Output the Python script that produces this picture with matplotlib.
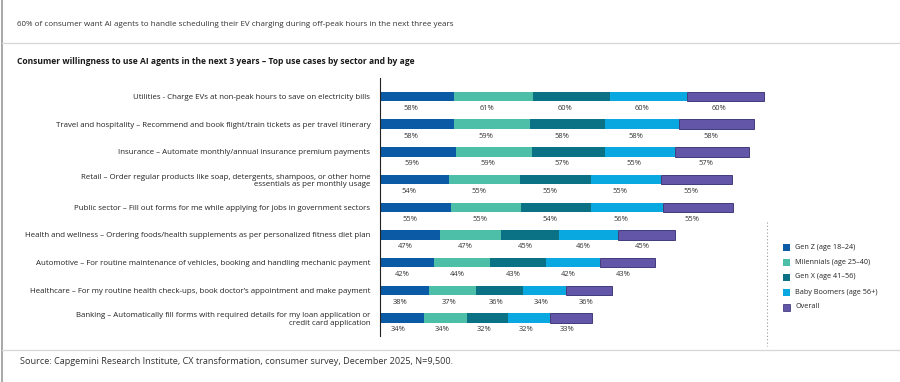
import matplotlib.pyplot as plt
import matplotlib.lines as mlines
import matplotlib.patches as mpatches
import numpy as np

plt.rcParams['font.family'] = ['Open Sans', 'DejaVu Sans']

# Data
categories = [
    'Utilities - Charge EVs at non-peak hours to save on electricity bills',
    'Travel and hospitality \u2013 Recommend and book flight/train tickets as per travel itinerary',
    'Insurance \u2013 Automate monthly/annual insurance premium payments',
    'Retail \u2013 Order regular products like soap, detergents, shampoos, or other home\nessentials as per monthly usage',
    'Public sector \u2013 Fill out forms for me while applying for jobs in government sectors',
    'Health and wellness \u2013 Ordering foods/health supplements as per personalized fitness diet plan',
    'Automotive \u2013 For routine maintenance of vehicles, booking and handling mechanic payment',
    'Healthcare \u2013 For my routine health check-ups, book doctor\u2019s appointment and make payment',
    'Banking \u2013 Automatically fill forms with required details for my loan application or\ncredit card application',
]
series_names = ['Gen Z (age 18\u201324)', 'Milennials (age 25\u201340)', 'Gen X (age 41\u201356)',
                'Baby Boomers (age 56+)', 'Overall']
gen_z = [58, 58, 59, 54, 55, 47, 42, 38, 34]
millennials = [61, 59, 59, 55, 55, 47, 44, 37, 34]
gen_x = [60, 58, 57, 55, 54, 45, 43, 36, 32]
boomers = [60, 58, 55, 55, 56, 46, 42, 34, 32]
overall = [60, 58, 57, 55, 55, 45, 43, 36, 33]

series = [gen_z, millennials, gen_x, boomers, overall]
colors = ['#0b5aa6', '#4dbfa8', '#0b7285', '#0aa8e0', '#6356a8']
edges = ['none', 'none', 'none', 'none', '#2e2a6e']

W, H = 900, 382
fig = plt.figure(figsize=(9, 3.82), dpi=100, facecolor='white')

# frame lines
fig.add_artist(mlines.Line2D([2 / W, 2 / W], [0, 1], color='#9a9a9a', lw=1.2))
fig.add_artist(mlines.Line2D([2 / W, 1], [1 - 43 / H, 1 - 43 / H], color='#d6d6d6', lw=0.9))
fig.add_artist(mlines.Line2D([2 / W, 1], [1 - 350 / H, 1 - 350 / H], color='#d6d6d6', lw=0.9))

fig.text(17 / W, 1 - 25 / H,
         '60% of consumer want AI agents to handle scheduling their EV charging during off-peak hours in the next three years',
         fontsize=5.75, color='#333333', va='center', ha='left')
fig.text(17 / W, 1 - 62 / H,
         'Consumer willingness to use AI agents in the next 3 years \u2013 Top use cases by sector and by age',
         fontsize=6.1, fontweight='bold', color='#1a1a1a', va='center', ha='left')
fig.text(20 / W, 1 - 362 / H,
         'Source: Capgemini Research Institute, CX transformation, consumer survey, December 2025, N=9,500.',
         fontsize=6.55, color='#333333', va='center', ha='left')

# main axes
ax_left, ax_right = 380, 900
ax_top, ax_bot = 78, 336
ax = fig.add_axes([ax_left / W, 1 - ax_bot / H, (ax_right - ax_left) / W, (ax_bot - ax_top) / H])
px_per_unit = 384 / 299.0
ax.set_xlim(0, (ax_right - ax_left) / px_per_unit)
row_px = 27.7
ax.set_ylim(8 + 18 / row_px, -18.5 / row_px)

y = np.arange(len(categories))
left = np.zeros(len(categories))
for vals, c, ec in zip(series, colors, edges):
    vals = np.array(vals, dtype=float)
    ax.barh(y, vals, left=left, height=0.34, color=c, edgecolor=ec, linewidth=0.6 if ec != 'none' else 0)
    for yi, l, v in zip(y, left, vals):
        ax.text(l + v * 0.42, yi + 0.43, f'{int(v)}%', ha='center', va='center',
                fontsize=5.4, color='#333333')
    left += vals

ax.set_yticks(y)
ax.set_yticklabels(categories, fontsize=5.7, color='#222222', linespacing=1.15)
ax.tick_params(axis='y', length=0, pad=7)
ax.set_xticks([])
for s in ['top', 'right', 'bottom']:
    ax.spines[s].set_visible(False)
ax.spines['left'].set_color('#222222')
ax.spines['left'].set_linewidth(0.8)

# legend area
fig.add_artist(mlines.Line2D([767 / W, 767 / W], [1 - 222 / H, 1 - 346 / H],
                             color='#9a9a9a', lw=0.8, linestyle=(0, (1, 2))))
leg_y = [247, 262, 277, 292, 307]
for name, c, ly in zip(series_names, colors, leg_y):
    fig.add_artist(mpatches.Rectangle(((783) / W, 1 - (ly + 3.5) / H), 7 / W, 7 / H,
                                      facecolor=c, edgecolor='#2e2a6e' if c == '#6356a8' else 'none',
                                      linewidth=0.5, transform=fig.transFigure))
    fig.text(795 / W, 1 - ly / H, name, fontsize=5.2, color='#222222', va='center', ha='left')

fig.savefig('out.png', dpi=100, facecolor='white')
